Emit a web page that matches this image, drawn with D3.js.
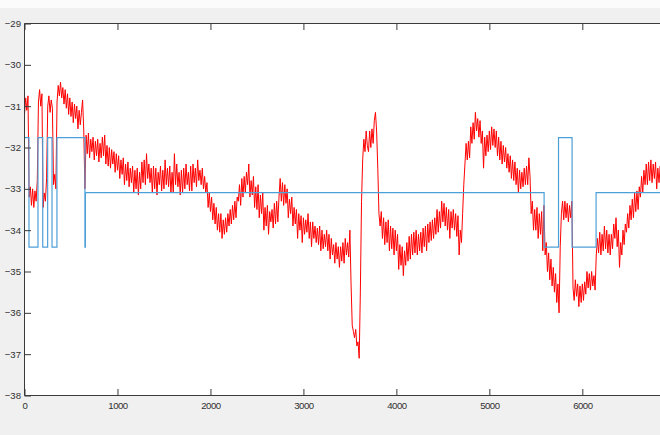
<!DOCTYPE html>
<html>
<head>
<meta charset="utf-8">
<script src="https://cdn.jsdelivr.net/npm/d3@7"></script>
<style>
  html, body { margin: 0; padding: 0; background: #f0f0f0; overflow: hidden; }
  svg { display: block; }
  text { font-family: "Liberation Sans", Arial, Helvetica, sans-serif; }
</style>
</head>
<body>
<svg id="chart" width="660" height="435"></svg>
<script>
// ---- data ----
const xTicks = [0, 1000, 2000, 3000, 4000, 5000, 6000];
const yTicks = [-38, -37, -36, -35, -34, -33, -32, -31, -30, -29];

// red signal: one value every 12.5 x-units (8 values per 100 units per row)
const redStep = 12.5;
const redValues = [
  -31.2, -30.8, -31.1, -30.75, -33.2, -32.95, -33.4, -33.0,      // 0
  -33.45, -33.05, -33.3, -32.8, -30.9, -30.6, -31.0, -30.7,      // 100
  -33.45, -33.1, -33.3, -32.75, -31.0, -30.75, -31.15, -30.85,   // 200
  -31.05, -32.9, -32.65, -33.0, -30.9, -30.5, -30.75, -30.42,    // 300
  -30.8, -30.55, -30.95, -30.6, -31.05, -30.7, -31.2, -30.8,     // 400
  -31.25, -30.9, -31.4, -30.95, -31.3, -31.0, -31.55, -31.1,     // 500
  -31.45, -31.15, -30.85, -31.6, -33.0, -31.7, -32.15, -31.65,   // 600
  -32.25, -31.8, -32.1, -31.75, -32.3, -31.85, -32.2, -31.8,     // 700
  -32.35, -31.9, -32.25, -31.75, -32.2, -31.7, -32.4, -31.95,    // 800
  -32.45, -32.0, -32.5, -32.05, -32.4, -32.1, -32.6, -32.15,     // 900
  -32.55, -32.2, -32.75, -32.3, -32.65, -32.25, -32.9, -32.4,    // 1000
  -32.8, -32.35, -32.95, -32.5, -32.85, -32.45, -33.1, -32.55,   // 1100
  -33.0, -32.5, -33.15, -32.6, -33.0, -32.35, -32.85, -32.3,     // 1200
  -32.9, -32.15, -32.75, -32.4, -32.85, -32.5, -33.1, -32.45,    // 1300
  -33.0, -32.5, -33.15, -32.6, -32.9, -32.45, -33.05, -32.55,    // 1400
  -33.0, -32.3, -32.9, -32.5, -32.95, -32.45, -33.1, -32.6,      // 1500
  -33.1, -32.15, -32.9, -32.4, -32.95, -32.6, -33.15, -32.55,    // 1600
  -33.1, -32.5, -33.0, -32.4, -32.9, -32.6, -33.05, -32.45,      // 1700
  -33.05, -32.4, -32.85, -32.5, -32.95, -32.3, -32.8, -32.55,    // 1800
  -32.9, -32.5, -33.0, -32.7, -33.1, -32.85, -33.45, -33.1,      // 1900
  -33.55, -33.2, -33.75, -33.35, -33.85, -33.45, -34.0, -33.6,   // 2000
  -34.05, -33.6, -34.2, -33.75, -34.1, -33.7, -34.05, -33.6,     // 2100
  -33.9, -33.5, -33.85, -33.4, -33.75, -33.3, -33.7, -33.2,      // 2200
  -33.3, -32.9, -33.4, -32.75, -33.2, -32.7, -33.1, -32.6,       // 2300
  -32.9, -32.4, -33.2, -32.8, -33.15, -32.7, -33.45, -32.95,     // 2400
  -33.5, -32.9, -33.7, -33.15, -33.6, -33.1, -34.0, -33.45,      // 2500
  -33.9, -33.4, -34.1, -33.55, -33.8, -33.5, -33.95, -33.35,     // 2600
  -33.85, -33.3, -33.8, -33.2, -32.75, -33.3, -32.85, -33.4,     // 2700
  -32.9, -33.35, -33.0, -33.7, -33.25, -33.6, -33.2, -33.9,      // 2800
  -33.45, -33.85, -33.5, -34.2, -33.6, -34.0, -33.65, -34.3,     // 2900
  -33.7, -34.1, -33.75, -34.05, -33.6, -34.2, -33.8, -34.4,      // 3000
  -33.8, -34.2, -33.9, -34.3, -33.95, -34.35, -33.9, -34.5,      // 3100
  -34.0, -34.45, -34.1, -34.4, -34.0, -34.5, -34.1, -34.7,       // 3200
  -34.2, -34.6, -34.35, -34.8, -34.3, -34.7, -34.4, -34.9,       // 3300
  -34.4, -34.75, -34.3, -34.8, -34.2, -34.6, -34.3, -34.65,      // 3400
  -34.0, -35.3, -36.3, -36.45, -36.6, -36.4, -36.8, -36.7,       // 3500
  -37.1, -35.5, -33.3, -32.3, -31.8, -32.1, -31.6, -31.95,       // 3600
  -32.1, -31.6, -32.0, -31.55, -31.9, -31.35, -31.15, -31.6,     // 3700
  -32.5, -33.6, -33.9, -33.55, -34.2, -33.7, -34.35, -33.8,      // 3800
  -34.3, -33.75, -34.5, -33.9, -34.45, -33.95, -34.6, -34.0,     // 3900
  -34.5, -34.1, -34.95, -34.35, -34.85, -34.4, -35.1, -34.5,     // 4000
  -34.85, -34.3, -34.75, -34.15, -34.7, -34.1, -34.6, -34.05,    // 4100
  -34.55, -34.0, -34.6, -34.1, -34.5, -34.05, -34.55, -33.95,    // 4200
  -34.4, -33.9, -34.5, -33.85, -34.3, -33.8, -34.25, -33.75,     // 4300
  -34.2, -33.7, -34.1, -33.5, -34.05, -33.55, -33.95, -33.3,     // 4400
  -33.8, -33.35, -33.9, -33.45, -34.0, -33.5, -34.2, -33.55,     // 4500
  -33.95, -33.5, -34.0, -33.6, -34.15, -33.65, -34.6, -34.0,     // 4600
  -34.3, -33.6, -32.9, -32.4, -31.9, -32.3, -31.85, -32.25,      // 4700
  -31.5, -31.9, -31.4, -31.8, -31.15, -31.6, -31.3, -31.75,      // 4800
  -31.35, -31.9, -31.6, -32.5, -31.75, -32.2, -31.7, -32.1,      // 4900
  -31.6, -32.05, -31.5, -31.95, -31.55, -32.0, -31.6, -32.2,     // 5000
  -31.75, -32.3, -31.85, -32.4, -31.95, -32.35, -32.0, -32.5,    // 5100
  -32.15, -32.6, -32.2, -32.75, -32.3, -32.8, -32.35, -32.9,     // 5200
  -32.5, -33.1, -32.55, -33.0, -32.6, -32.95, -32.5, -32.9,      // 5300
  -32.45, -32.9, -32.25, -32.7, -33.6, -33.3, -34.0, -33.5,      // 5400
  -34.0, -33.45, -34.2, -33.6, -34.1, -33.55, -34.5, -33.4,      // 5500
  -34.6, -34.3, -35.0, -34.55, -35.2, -34.7, -35.35, -34.9,      // 5600
  -35.5, -35.05, -35.75, -35.3, -36.0, -34.4, -33.6, -33.3,      // 5700
  -33.75, -33.3, -33.7, -33.35, -33.8, -33.4, -33.7, -33.3,      // 5800
  -35.4, -35.7, -35.2, -35.6, -35.3, -35.85, -35.35, -35.75,     // 5900
  -35.3, -35.7, -35.25, -35.55, -35.0, -35.4, -35.05, -35.45,    // 6000
  -35.0, -35.35, -35.1, -35.45, -34.6, -34.2, -34.55, -34.05,    // 6100
  -34.6, -34.1, -34.5, -33.9, -34.45, -34.0, -34.55, -34.1,      // 6200
  -34.6, -34.1, -34.45, -33.85, -34.2, -33.7, -34.4, -34.0,      // 6300
  -34.9, -34.3, -34.6, -34.0, -34.35, -33.85, -34.05, -33.6,     // 6400
  -33.95, -33.4, -33.75, -33.25, -33.7, -33.1, -33.55, -33.05,   // 6500
  -33.5, -32.95, -33.2, -32.7, -33.1, -32.55, -32.9, -32.4,      // 6600
  -32.9, -32.35, -32.8, -32.3, -32.85, -32.4, -32.75, -32.35,    // 6700
  -33.0, -32.5, -32.85, -32.45, -32.9, -32.4, -32.8, -32.5       // 6800
];

// blue step signal: change points and levels
const blueX = [0, 48, 145, 196, 249, 296, 349, 650, 655, 5589, 5744, 5890, 6148, 7000];
const blueY = [-31.76, -34.41, -31.76, -34.41, -31.76, -34.41, -31.76, -34.41, -33.09, -34.41, -31.76, -34.41, -33.09, -33.09];

// ---- drawing ----
const svg = d3.select("#chart");
const W = 660, H = 435;
const plotLeft = 24.5, plotTop = 23.5, plotBottom = 395.5;
const pxPer1000 = 92.97;

svg.append("rect").attr("x", 0).attr("y", 0).attr("width", W).attr("height", H).attr("fill", "#f0f0f0");
svg.append("rect").attr("x", 0).attr("y", 0).attr("width", W).attr("height", 8).attr("fill", "#fbfbfb");

const x = d3.scaleLinear().domain([0, 7000]).range([plotLeft, plotLeft + 7 * pxPer1000]);
const y = d3.scaleLinear().domain([-38, -29]).range([plotBottom, plotTop]);

svg.append("rect")
  .attr("x", plotLeft).attr("y", plotTop)
  .attr("width", x(7000) - plotLeft).attr("height", plotBottom - plotTop)
  .attr("fill", "#ffffff");

svg.append("clipPath").attr("id", "plotclip")
  .append("rect").attr("x", plotLeft).attr("y", plotTop)
  .attr("width", x(7000) - plotLeft).attr("height", plotBottom - plotTop);

const g = svg.append("g").attr("clip-path", "url(#plotclip)");

const redData = redValues.map((v, i) => [i * redStep, v]);
g.append("path")
  .datum(redData)
  .attr("fill", "none")
  .attr("stroke", "#ff0000")
  .attr("stroke-width", 1)
  .attr("stroke-linejoin", "bevel")
  .attr("d", d3.line().x(d => x(d[0])).y(d => y(d[1])));

const blueData = blueX.map((v, i) => [v, blueY[i]]);
g.append("path")
  .datum(blueData)
  .attr("fill", "none")
  .attr("stroke", "#4d9fd8")
  .attr("stroke-width", 1.2)
  .attr("d", d3.line().curve(d3.curveStepAfter).x(d => x(d[0])).y(d => y(d[1])));

const axisColor = "#3a3a3a";
const tickLen = 6.5;

const gx = svg.append("g").attr("transform", `translate(0,${plotBottom})`)
  .call(d3.axisBottom(x).tickValues(xTicks).tickFormat(d3.format("d"))
        .tickSizeInner(-tickLen).tickSizeOuter(0).tickPadding(6.7));
const gxTop = svg.append("g").attr("transform", `translate(0,${plotTop})`)
  .call(d3.axisTop(x).tickValues(xTicks).tickFormat("")
        .tickSizeInner(-tickLen).tickSizeOuter(0));
const gy = svg.append("g").attr("transform", `translate(${plotLeft},0)`)
  .call(d3.axisLeft(y).tickValues(yTicks).tickFormat(d3.format("d"))
        .tickSizeInner(-tickLen).tickSizeOuter(0).tickPadding(3.5));

[gx, gxTop, gy].forEach(a => {
  a.select(".domain").remove();
  a.selectAll(".tick line").attr("stroke", axisColor).attr("stroke-width", 1);
  a.selectAll(".tick text").attr("fill", "#303030").attr("font-size", "9.6px")
    .attr("font-family", "'Liberation Sans', Arial, Helvetica, sans-serif");
});
gx.selectAll(".tick text").attr("letter-spacing", "-0.5px");

// box lines
svg.append("line").attr("x1", plotLeft).attr("x2", W).attr("y1", plotTop).attr("y2", plotTop)
  .attr("stroke", axisColor).attr("stroke-width", 1);
svg.append("line").attr("x1", plotLeft).attr("x2", W).attr("y1", plotBottom).attr("y2", plotBottom)
  .attr("stroke", axisColor).attr("stroke-width", 1);
svg.append("line").attr("x1", plotLeft).attr("x2", plotLeft).attr("y1", plotTop).attr("y2", plotBottom)
  .attr("stroke", axisColor).attr("stroke-width", 1);
</script>
</body>
</html>
